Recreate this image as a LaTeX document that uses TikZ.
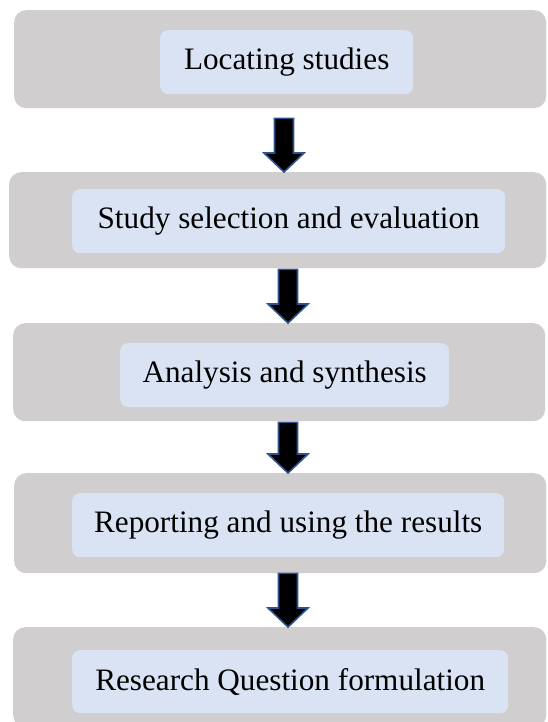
\documentclass[tikz,border=0pt]{standalone}
\usepackage{fontspec}
\setmainfont{Liberation Serif}
\usetikzlibrary{calc}

\definecolor{panelgray}{HTML}{D0CECE}
\definecolor{stepblue}{HTML}{DAE3F3}
\definecolor{arrowedge}{HTML}{2F528F}

\tikzset{
  panel/.style={fill=panelgray, rounded corners=12pt, minimum width=532pt,
    minimum height=98pt, anchor=north west, inner sep=0pt},
  stepbox/.style={fill=stepblue, rounded corners=8pt, anchor=north west,
    inner sep=0pt, minimum height=64pt, text=black,
    font=\fontsize{31.2}{36}\selectfont},
  blockarrow/.style={fill=black, draw=arrowedge, line width=1.6pt, line join=miter},
}

% block arrow from a point below one panel down to the top of the next one
\newcommand\flowarrow[4]{%
  \coordinate (#1-ax) at (#4,0);
  \path (#1.south -| #1-ax) ++(0,#3) coordinate (#1-tail)
        (#2.north -| #1-ax) coordinate (#2-head);
  \draw[blockarrow]
    ($(#1-tail)+(-9.5,0)$) -- ($(#1-tail)+(9.5,0)$)
    -- ($(#2-head)+(9.5,-19)$) -- ($(#2-head)+(20,-19)$)
    -- (#2-head)
    -- ($(#2-head)+(-20,-19)$) -- ($(#2-head)+(-9.5,-19)$) -- cycle;
}

\begin{document}
\begin{tikzpicture}[x=1pt, y=-1pt]
  \useasboundingbox[fill=white] (0,0) rectangle (547,722);

  % outer panels
  \node[panel] (p1) at (14,10) {};
  \node[panel, minimum width=537pt, minimum height=96pt] (p2) at (9,172) {};
  \node[panel] (p3) at (13,323) {};
  \node[panel, minimum height=100pt] (p4) at (14,473) {};
  \node[panel, minimum width=533pt, minimum height=100pt] (p5) at (13,627) {};

  % step labels
  \node[stepbox, minimum width=253pt] (s1) at (160,30) {Locating studies};
  \node[stepbox, minimum width=433pt] (s2) at (72,189) {Study selection and evaluation};
  \node[stepbox, minimum width=329pt] (s3) at (120,343) {Analysis and synthesis};
  \node[stepbox, minimum width=432pt] (s4) at (72,493) {Reporting and using the results};
  \node[stepbox, minimum width=436pt, minimum height=63pt] (s5) at (72,650) {Research Question formulation};

  % connecting arrows
  \flowarrow{p1}{p2}{10}{284}
  \flowarrow{p2}{p3}{1}{288}
  \flowarrow{p3}{p4}{1}{288}
  \flowarrow{p4}{p5}{0}{288}
\end{tikzpicture}
\end{document}
